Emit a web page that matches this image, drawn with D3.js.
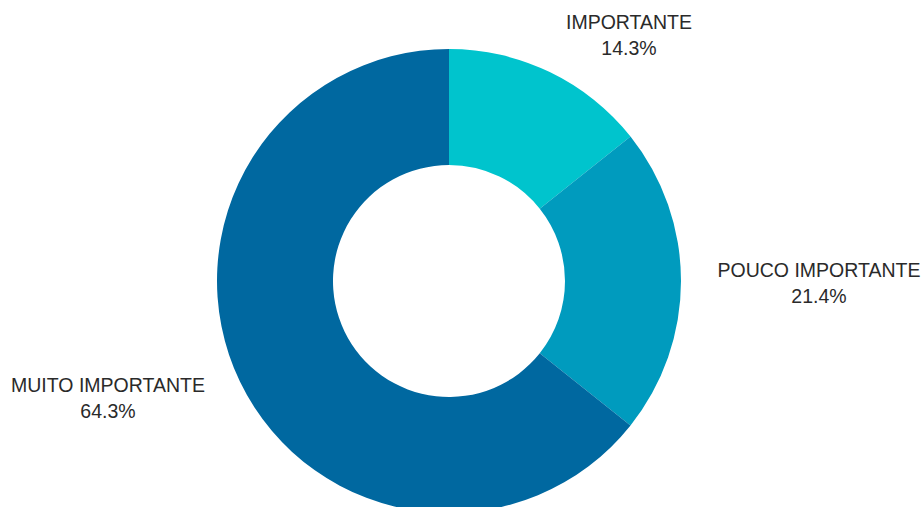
<!DOCTYPE html>
<html><head><meta charset="utf-8">
<script src="https://cdn.jsdelivr.net/npm/d3@7"></script>
<style>html,body{margin:0;padding:0;background:#fff;overflow:hidden}</style>
</head><body>
<svg id="c" width="924" height="507"></svg>
<script>
const categories = ["IMPORTANTE", "POUCO IMPORTANTE", "MUITO IMPORTANTE"];
const values = [14.3, 21.4, 64.3];
const colors = ["#00C4CD", "#009BBE", "#0068A0"];
const labelPos = [[629, 29], [819, 277], [108, 392]];

const svg = d3.select("#c");
const cx = 449, cy = 281, R = 232, r = 116;
const pie = d3.pie().sort(null).value(d => d.v);
const arcs = pie(categories.map((c, i) => ({c, v: values[i], i})));
const arc = d3.arc().innerRadius(r).outerRadius(R);
const g = svg.append("g").attr("transform", `translate(${cx},${cy})`);
g.selectAll("path").data(arcs).enter().append("path")
  .attr("d", arc).attr("fill", d => colors[d.data.i]);

const lg = svg.append("g");
arcs.forEach(d => {
  const [x, y] = labelPos[d.data.i];
  const t = lg.append("text").attr("x", x).attr("y", y)
    .attr("text-anchor", "middle")
    .attr("font-family", "Liberation Sans, Arial, sans-serif")
    .attr("font-size", 19.5).attr("fill", "#2a2a2a");
  t.append("tspan").attr("x", x).text(d.data.c);
  t.append("tspan").attr("x", x).attr("dy", 26).text(d3.format(".1f")(d.data.v) + "%");
});
</script>
</body></html>
